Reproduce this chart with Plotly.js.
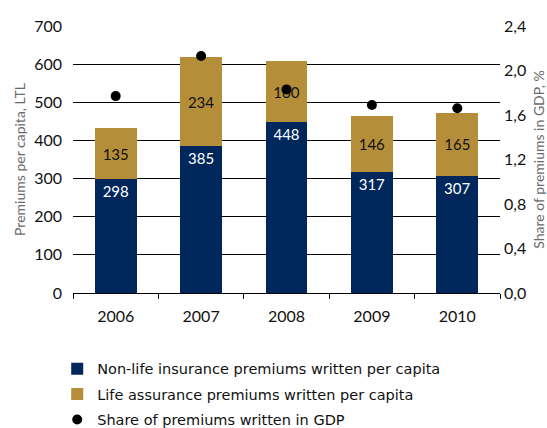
<!DOCTYPE html>
<html>
<head>
<meta charset="utf-8">
<script src="https://cdn.plot.ly/plotly-3.0.1.min.js"></script>
<style>html,body{margin:0;padding:0;background:#fff;}#chart{width:547px;height:428px;}</style>
</head>
<body>
<div id="chart"></div>
<script>
const years = ['2006', '2007', '2008', '2009', '2010'];
const nonLife = [298, 385, 448, 317, 307];
const life = [135, 234, 160, 146, 165];
const gdpShare = [1.77, 2.13, 1.83, 1.69, 1.66];

const seriesNames = [
  'Non-life insurance premiums written per capita',
  'Life assurance premiums written per capita',
  'Share of premiums written in GDP'
];

const NAVY = '#00275c';
const GOLD = '#b58e3a';
const numFont = 'Lato, Roboto, sans-serif';
const legFont = 'DejaVu Sans';

const traces = [
  {
    type: 'bar', name: seriesNames[0], x: years, y: nonLife, legendgroup: 'a',
    text: nonLife.map(String), textposition: 'inside', insidetextanchor: 'end',
    textangle: 0, textfont: {color: '#ffffff', size: 15, family: numFont},
    marker: {color: NAVY}, hoverinfo: 'skip'
  },
  {
    type: 'bar', name: seriesNames[1], x: years, y: life, legendgroup: 'b',
    text: life.map(String), textposition: 'inside', insidetextanchor: 'middle',
    textangle: 0, textfont: {color: '#111111', size: 15, family: numFont},
    marker: {color: GOLD}, hoverinfo: 'skip'
  },
  {
    type: 'scatter', mode: 'markers', name: seriesNames[2], x: years, y: gdpShare,
    legendgroup: 'c', yaxis: 'y2', marker: {color: '#000000', size: 10}, hoverinfo: 'skip'
  }
];

const layout = {
  width: 547, height: 428,
  margin: {l: 73, r: 47, t: 26, b: 135, autoexpand: false},
  paper_bgcolor: '#ffffff', plot_bgcolor: '#ffffff',
  barmode: 'stack', bargap: 0.51,
  separators: ', ',
  showlegend: true,
  font: {family: numFont, color: '#111111'},
  xaxis: {
    type: 'category', tickson: 'boundaries', ticks: 'outside', ticklen: 5,
    tickcolor: '#000000', showline: true, linecolor: '#000000', linewidth: 1,
    showgrid: false, zeroline: false, ticklabelstandoff: 9,
    tickfont: {size: 16, family: numFont, color: '#111111'}
  },
  yaxis: {
    range: [0, 700], dtick: 100, showgrid: true, gridcolor: '#000000', gridwidth: 1,
    zeroline: false, showline: false, ticks: '', ticklabelstandoff: 10,
    tickfont: {size: 16, family: numFont, color: '#111111'},
    title: {text: 'Premiums per capita, LTL', standoff: 5,
            font: {size: 14, family: numFont, color: '#6a6a6a'}}
  },
  yaxis2: {
    overlaying: 'y', side: 'right', range: [0, 2.4], dtick: 0.4, tickformat: '.1f',
    showgrid: false, zeroline: false, showline: false, ticks: '', ticklabelstandoff: 3,
    tickfont: {size: 16, family: numFont, color: '#111111'},
    title: {text: 'Share of premiums in GDP, %', standoff: 13,
            font: {size: 14, family: numFont, color: '#6a6a6a'}}
  },
  legend: {
    orientation: 'v', traceorder: 'grouped', tracegroupgap: 3.5, x: -0.037, xanchor: 'left',
    y: -0.224, yanchor: 'top', bgcolor: 'rgba(0,0,0,0)',
    font: {size: 14.5, family: legFont, color: '#111111'}
  }
};

Plotly.newPlot('chart', traces, layout, {displayModeBar: false, staticPlot: true});
</script>
</body>
</html>
